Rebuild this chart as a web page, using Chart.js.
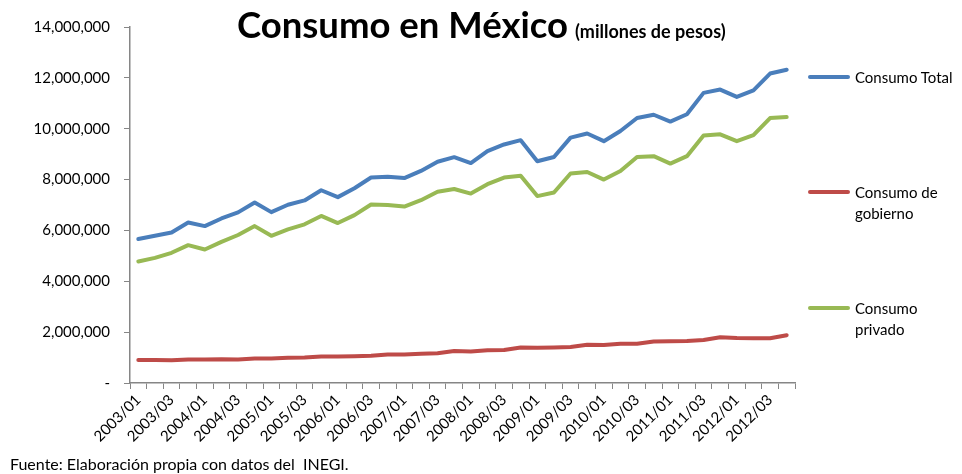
<!DOCTYPE html>
<html>
<head>
<meta charset="utf-8">
<script src="https://cdn.jsdelivr.net/npm/chart.js@4"></script>
<style>
  body { margin: 0; background: #fff; }
  #wrap { position: relative; width: 962px; height: 474px; font-family: Lato, "Open Sans", sans-serif; color: #000; }
  #grafico { position: absolute; left: 0; top: 0; }
  .titulo { position: absolute; left: 237px; top: 2px; white-space: nowrap; font-weight: bold; }
  .titulo .big { font-size: 36.5px; }
  .titulo .small { font-size: 18px; margin-left: 7px; }
  .fuente { position: absolute; left: 10px; top: 454px; font-size: 16px; white-space: nowrap; }
  .ley { position: absolute; left: 808px; font-size: 15px; line-height: 21px; }
  .ley .linea { position: absolute; left: 0; width: 42px; height: 4px; border-radius: 2px; }
  .ley .txt { position: absolute; left: 47px; white-space: nowrap; }
</style>
</head>
<body>
<div id="wrap">
  <canvas id="grafico" width="962" height="474"></canvas>
  <div class="titulo"><span class="big">Consumo en México</span><span class="small">(millones de pesos)</span></div>
  <div id="leyenda"></div>
  <div class="fuente">Fuente: Elaboración propia con datos del&nbsp; INEGI.</div>
</div>
<script>
const trimestres = [
  '2003/01','2003/02','2003/03','2003/04','2004/01','2004/02','2004/03','2004/04',
  '2005/01','2005/02','2005/03','2005/04','2006/01','2006/02','2006/03','2006/04',
  '2007/01','2007/02','2007/03','2007/04','2008/01','2008/02','2008/03','2008/04',
  '2009/01','2009/02','2009/03','2009/04','2010/01','2010/02','2010/03','2010/04',
  '2011/01','2011/02','2011/03','2011/04','2012/01','2012/02','2012/03','2012/04'
];

const consumoTotal = [
  5660000, 5790000, 5920000, 6310000, 6170000, 6470000, 6710000, 7100000,
  6720000, 7010000, 7180000, 7580000, 7310000, 7660000, 8080000, 8110000,
  8060000, 8340000, 8700000, 8880000, 8650000, 9120000, 9380000, 9550000,
  8720000, 8890000, 9650000, 9810000, 9510000, 9910000, 10420000, 10550000,
  10280000, 10570000, 11410000, 11540000, 11250000, 11510000, 12170000, 12320000
];

const consumoGobierno = [
  900000, 900000, 890000, 920000, 920000, 930000, 920000, 960000,
  960000, 990000, 1000000, 1040000, 1040000, 1050000, 1070000, 1120000,
  1120000, 1150000, 1170000, 1260000, 1240000, 1290000, 1300000, 1400000,
  1390000, 1400000, 1420000, 1500000, 1490000, 1540000, 1540000, 1630000,
  1640000, 1650000, 1690000, 1800000, 1770000, 1760000, 1760000, 1880000
];

const consumoPrivado = [
  4780000, 4920000, 5120000, 5420000, 5250000, 5550000, 5820000, 6170000,
  5790000, 6040000, 6240000, 6570000, 6290000, 6600000, 7020000, 7000000,
  6940000, 7190000, 7520000, 7630000, 7450000, 7820000, 8080000, 8150000,
  7350000, 7490000, 8240000, 8300000, 8000000, 8340000, 8890000, 8920000,
  8630000, 8920000, 9730000, 9780000, 9510000, 9750000, 10420000, 10460000
];

const series = [
  { nombre: ['Consumo Total'], datos: consumoTotal, color: '#4A7EBB', y: 77 },
  { nombre: ['Consumo de', 'gobierno'], datos: consumoGobierno, color: '#BE4B48', y: 192 },
  { nombre: ['Consumo', 'privado'], datos: consumoPrivado, color: '#98B954', y: 308 }
];

// leyenda a la derecha, como en Excel
let html = '';
series.forEach(s => {
  html += `<div class="ley" style="top:${s.y - 10}px">
    <div class="linea" style="background:${s.color};top:8px"></div>
    <div class="txt">${s.nombre.join('<br>')}</div>
  </div>`;
});
document.getElementById('leyenda').innerHTML = html;

const gris = '#868686';
const fuente = { family: 'Lato, "Open Sans", sans-serif', size: 15 };

new Chart(document.getElementById('grafico'), {
  type: 'line',
  data: {
    labels: trimestres,
    datasets: series.map(s => ({
      label: s.nombre.join(' '),
      data: s.datos,
      borderColor: s.color,
      backgroundColor: s.color,
      borderWidth: 4,
      pointRadius: 0,
      tension: 0,
      borderCapStyle: 'round',
      borderJoinStyle: 'round'
    }))
  },
  options: {
    responsive: false,
    animation: false,
    devicePixelRatio: 1,
    layout: { padding: { left: 0, right: 167, top: 27, bottom: 0 } },
    plugins: { legend: { display: false }, title: { display: false }, tooltip: { enabled: false } },
    scales: {
      x: {
        offset: true,
        grid: { offset: true, drawOnChartArea: false, drawTicks: true, tickLength: 6, color: gris },
        border: { color: gris, width: 1.5 },
        ticks: {
          autoSkip: false, maxRotation: 45, minRotation: 45, padding: 2,
          color: '#000', font: fuente,
          callback: function (v, i) { return i % 2 === 0 ? this.getLabelForValue(v) : ''; }
        },
        afterFit: s => { s.height = 91; }
      },
      y: {
        min: 0, max: 14000000,
        grid: { drawOnChartArea: false, drawTicks: true, tickLength: 6, color: gris },
        border: { color: gris, width: 1.5 },
        ticks: {
          stepSize: 2000000, padding: 14, color: '#000', font: fuente,
          callback: v => v === 0 ? '-' : v.toLocaleString('en-US')
        },
        afterFit: s => { s.width = 130; }
      }
    }
  }
});
</script>
</body>
</html>
